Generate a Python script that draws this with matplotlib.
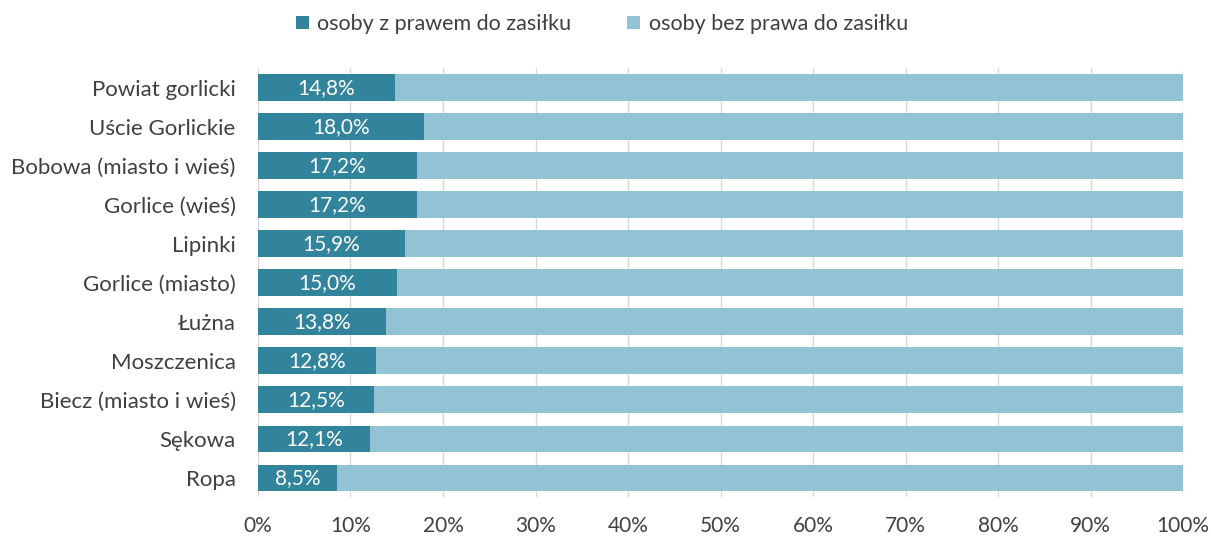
import matplotlib
matplotlib.use("Agg")
import matplotlib.pyplot as plt
import numpy as np

categories = ["Powiat gorlicki", "Uście Gorlickie", "Bobowa (miasto i wieś)", "Gorlice (wieś)",
              "Lipinki", "Gorlice (miasto)", "Łużna", "Moszczenica", "Biecz (miasto i wieś)",
              "Sękowa", "Ropa"]
with_benefit = [14.8, 18.0, 17.2, 17.2, 15.9, 15.0, 13.8, 12.8, 12.5, 12.1, 8.5]
without_benefit = [100 - v for v in with_benefit]
xticks = [0, 10, 20, 30, 40, 50, 60, 70, 80, 90, 100]
labels = ["osoby z prawem do zasiłku", "osoby bez prawa do zasiłku"]

plt.rcParams['font.family'] = ['Lato', 'DejaVu Sans']
dark = "#31849B"
light = "#92C3D5"
txt = "#404040"

fig = plt.figure(figsize=(12.11, 5.38), dpi=100)
ax = fig.add_axes([0.213, 0.0753, 0.977 - 0.213, 0.873 - 0.0753])
y = np.arange(len(categories))
b1 = ax.barh(y, with_benefit, height=0.69, color=dark, label=labels[0], zorder=3)
b2 = ax.barh(y, without_benefit, left=with_benefit, height=0.69, color=light, label=labels[1], zorder=3)
for yi, v in zip(y, with_benefit):
    ax.text(v / 2, yi, f"{v:.1f}%".replace(".", ","), ha="center", va="center",
            color="white", fontsize=15, zorder=4)
ax.set_ylim(len(categories) - 0.5, -0.5)
ax.set_xlim(0, 100)
ax.set_yticks(y)
ax.set_yticklabels(categories, fontsize=16, color=txt)
ax.set_xticks(xticks)
ax.set_xticklabels([f"{t}%" for t in xticks], fontsize=15, color=txt)
ax.tick_params(axis="both", length=0)
ax.tick_params(axis="y", pad=16)
ax.tick_params(axis="x", pad=13)
ax.grid(axis="x", color="#D9D9D9", linewidth=1, zorder=0)
for s in ax.spines.values():
    s.set_visible(False)
fig.legend(handles=[b1, b2], labels=labels, loc="center", bbox_to_anchor=(0.497, 0.955),
           ncol=2, frameon=False, fontsize=15.5, handlelength=0.6, handleheight=0.6,
           columnspacing=2.6, handletextpad=0.4, labelcolor=txt)
fig.savefig("out.png", dpi=100)
